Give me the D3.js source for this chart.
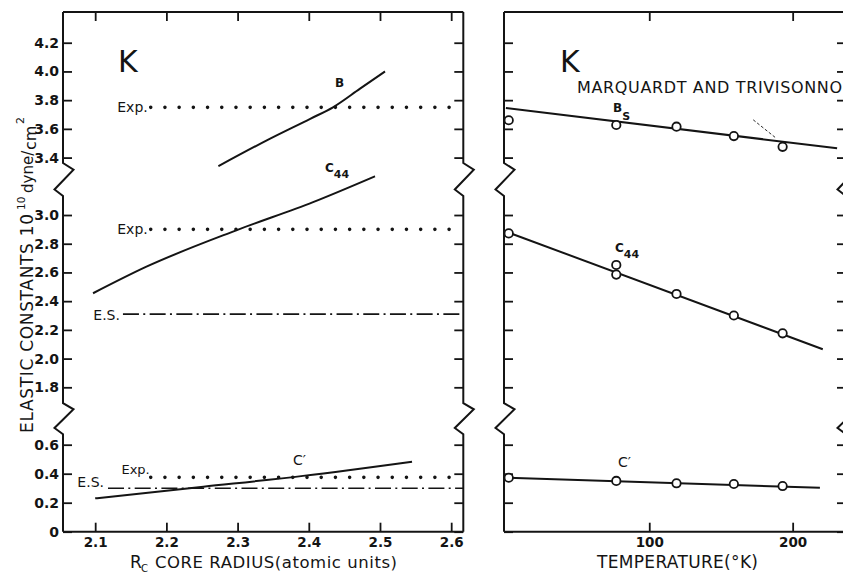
<!DOCTYPE html>
<html>
<head>
<meta charset="utf-8">
<script src="https://cdn.jsdelivr.net/npm/d3@7"></script>
<style>
  body { margin: 0; background: #fff; }
  svg text { font-family: "DejaVu Sans", sans-serif; fill: #141414; }
</style>
</head>
<body>
<svg id="chart" width="843" height="573"></svg>
<script>
// ---- left panel: calculated constants vs core radius ----
var radiusTicks = [2.1, 2.2, 2.3, 2.4, 2.5, 2.6];
var valueTicks = [0, 0.2, 0.4, 0.6, 1.8, 2.0, 2.2, 2.4, 2.6, 2.8, 3.0, 3.4, 3.6, 3.8, 4.0, 4.2];
var curveB = [[2.273, 3.34], [2.341, 3.52], [2.402, 3.67], [2.434, 3.75], [2.472, 3.88], [2.507, 4.00]];
var curveC44 = [[2.097, 2.455], [2.172, 2.64], [2.299, 2.895], [2.406, 3.09], [2.493, 3.27]];
var curveCp = [[2.10, 0.23], [2.252, 0.31], [2.392, 0.385], [2.545, 0.483]];
var expB = 3.75, expC44 = 2.90, expCp = 0.375;   // experimental values (dotted)
var esC44 = 2.31, esCp = 0.30;                   // E.S. values (dash-dot)
var expStart = 2.178, esC44Start = 2.139, esCpStart = 2.118;

// ---- right panel: Marquardt and Trivisonno, vs temperature ----
var tempTicks = [100, 200];
var temps = [2, 77, 119, 159, 193];
var bsPoints = [3.66, 3.627, 3.615, 3.55, 3.475];
var c44Points = [2.872, 2.652, 2.45, 2.30, 2.176];
var c44Extra = [[77, 2.585]];
var cpPoints = [0.372, 0.35, 0.334, 0.329, 0.315];
var bsFit = [[0, 3.745], [231, 3.465]];
var c44Fit = [[0, 2.885], [221, 2.065]];
var cpFit = [[0, 0.372], [219, 0.303]];

var ink = "#141414";
var svg = d3.select("#chart");

var x1 = d3.scaleLinear().domain([2.0548, 2.617]).range([63, 463.3]);
var x2 = d3.scaleLinear().domain([-1.3, 237.2]).range([504, 846]);
var y = d3.scaleLinear().domain([0, 0.6, 1.8, 4.414]).range([531.7, 444.7, 387.3, 12]);
var breaks = [[3.362, 3.132], [1.47, 0.82]];
var yTop = 12, yBottom = 531.7;

function vAxisPath(X) {
  var p = d3.path();
  p.moveTo(X, yTop);
  breaks.forEach(function (b) {
    var ya = y(b[0]), yb = y(b[1]), h = yb - ya;
    p.lineTo(X, ya);
    p.lineTo(X + 10.5, ya + 0.2 * h);
    p.lineTo(X - 8.5, ya + 0.8 * h);
    p.lineTo(X, yb);
  });
  p.lineTo(X, yBottom);
  return p.toString();
}

function styleAxis(g, size) {
  g.select(".domain").remove();
  g.attr("font-family", null).attr("font-size", size).attr("font-weight", "bold");
  g.selectAll(".tick line").attr("stroke", ink).attr("stroke-width", 1.8);
  g.selectAll(".tick text").attr("fill", ink);
}

var yFmt = function (d) { return d === 0 ? "0" : d3.format(".1f")(d); };

[{ x: x1, ticks: radiusTicks, fmt: d3.format(".1f"), yLabels: true },
 { x: x2, ticks: tempTicks, fmt: d3.format("d"), yLabels: false }].forEach(function (p) {
  var L = p.x.range()[0], R = p.x.range()[1];
  svg.append("g").attr("transform", "translate(" + L + ",0)")
    .call(d3.axisLeft(y).tickValues(valueTicks).tickSize(-9).tickPadding(4)
      .tickFormat(p.yLabels ? yFmt : ""))
    .call(styleAxis, 14);
  svg.append("g").attr("transform", "translate(" + R + ",0)")
    .call(d3.axisRight(y).tickValues(valueTicks).tickSize(-9).tickFormat(""))
    .call(styleAxis, 14);
  svg.append("g").attr("transform", "translate(0," + yTop + ")")
    .call(d3.axisTop(p.x).tickValues(p.ticks).tickSize(-9).tickFormat(""))
    .call(styleAxis, 13.5);
  svg.append("g").attr("transform", "translate(0," + yBottom + ")")
    .call(d3.axisBottom(p.x).tickValues(p.ticks).tickSize(-9).tickPadding(6).tickFormat(p.fmt))
    .call(styleAxis, 13.5);

  [L, R].forEach(function (X) {
    svg.append("path").attr("d", vAxisPath(X))
      .attr("fill", "none").attr("stroke", ink).attr("stroke-width", 2);
  });
  [yTop, yBottom].forEach(function (Y) {
    svg.append("line").attr("x1", L).attr("x2", R).attr("y1", Y).attr("y2", Y)
      .attr("stroke", ink).attr("stroke-width", 2);
  });
});

// ---- left panel marks ----
var line1 = d3.line().x(function (d) { return x1(d[0]); }).y(function (d) { return y(d[1]); })
  .curve(d3.curveMonotoneX);

[curveB, curveC44, curveCp].forEach(function (c) {
  svg.append("path").attr("d", line1(c))
    .attr("fill", "none").attr("stroke", ink).attr("stroke-width", 2);
});

function dotted(v, from) {
  var a = x1(from), b = x1.range()[1];
  var n = Math.round((b - a) / 14.2);
  svg.append("line").attr("x1", a).attr("x2", b).attr("y1", y(v)).attr("y2", y(v))
    .attr("stroke", ink).attr("stroke-width", 3.6).attr("stroke-linecap", "round")
    .attr("stroke-dasharray", "0 " + ((b - a) / n));
}
function dashDot(v, from) {
  svg.append("line").attr("x1", x1(from)).attr("x2", x1.range()[1])
    .attr("y1", y(v)).attr("y2", y(v))
    .attr("stroke", ink).attr("stroke-width", 1.6)
    .attr("stroke-dasharray", "16 4.3 2 4.4");
}
dotted(expB, expStart);
dotted(expC44, expStart);
dotted(expCp, expStart);
dashDot(esC44, esC44Start);
dashDot(esCp, esCpStart);

function label(txt, x, yy, size, anchor) {
  return svg.append("text").attr("x", x).attr("y", yy).attr("font-size", size)
    .attr("text-anchor", anchor || "start").text(txt);
}
label("Exp.", x1(expStart) - 3, y(expB) + 5, 14, "end");
label("Exp.", x1(expStart) - 3, y(expC44) + 5, 14, "end");
label("Exp.", x1(expStart) - 1, y(expCp) - 3, 13, "end");
label("E.S.", x1(esC44Start) - 3, y(esC44) + 5.5, 14, "end");
label("E.S.", x1(esCpStart) - 4, y(esCp) - 1, 14, "end");

label("K", 118, 72, 30).attr("font-family", "Liberation Sans, sans-serif");
label("B", 335, 87, 12).attr("font-weight", "bold");
var c44a = label("C", 325, 172, 12).attr("font-weight", "bold");
c44a.append("tspan").attr("font-size", 11).attr("dy", 6).text("44");
label("C\u2032", 293, 465, 14);

// ---- right panel marks ----
var line2 = d3.line().x(function (d) { return x2(d[0]); }).y(function (d) { return y(d[1]); });
[bsFit, c44Fit, cpFit].forEach(function (c) {
  svg.append("path").attr("d", line2(c))
    .attr("fill", "none").attr("stroke", ink).attr("stroke-width", 2);
});
// stray dashed stroke on the scan near the last B_S point
svg.append("line").attr("x1", x2(172.5)).attr("y1", y(3.663)).attr("x2", x2(188.5)).attr("y2", y(3.535))
  .attr("stroke", ink).attr("stroke-width", 0.9).attr("stroke-dasharray", "3 2");

var pts = [];
temps.forEach(function (t, i) {
  pts.push([t, bsPoints[i]], [t, c44Points[i]], [t, cpPoints[i]]);
});
pts = pts.concat(c44Extra);
svg.selectAll("circle.obs").data(pts).enter().append("circle").attr("class", "obs")
  .attr("cx", function (d) { return x2(d[0]); })
  .attr("cy", function (d) { return y(d[1]); })
  .attr("r", 4.2).attr("fill", "#fff").attr("stroke", ink).attr("stroke-width", 1.8);

label("K", 560, 72, 30).attr("font-family", "Liberation Sans, sans-serif");
label("MARQUARDT  AND  TRIVISONNO", 577, 93, 16).attr("textLength", 265);
var bs = label("B", 613, 112, 12).attr("font-weight", "bold");
bs.append("tspan").attr("font-size", 11).attr("dy", 8).text("S");
var c44b = label("C", 615, 252, 12).attr("font-weight", "bold");
c44b.append("tspan").attr("font-size", 11).attr("dy", 6).text("44");
label("C\u2032", 618, 467, 14);

// ---- axis titles ----
label("R", 130, 568, 17);
label("C", 141, 572, 10);
label("CORE  RADIUS(atomic  units)", 155, 568, 16.5).attr("textLength", 242);
label("TEMPERATURE(\u00b0K)", 597, 568, 17).attr("textLength", 161);

var yt = svg.append("g").attr("transform", "translate(33,0) rotate(-90)");
yt.append("text").attr("x", -433).attr("y", 0).attr("font-size", 17)
  .attr("textLength", 219).text("ELASTIC  CONSTANTS  10");
yt.append("text").attr("x", -210).attr("y", -8).attr("font-size", 10.5).text("10");
yt.append("text").attr("x", -193).attr("y", 0).attr("font-size", 15).text("dyne/");
yt.append("text").attr("x", -150).attr("y", 3).attr("font-size", 16).text("cm");
yt.append("text").attr("x", -124).attr("y", -9).attr("font-size", 11).text("2");
</script>
</body>
</html>
